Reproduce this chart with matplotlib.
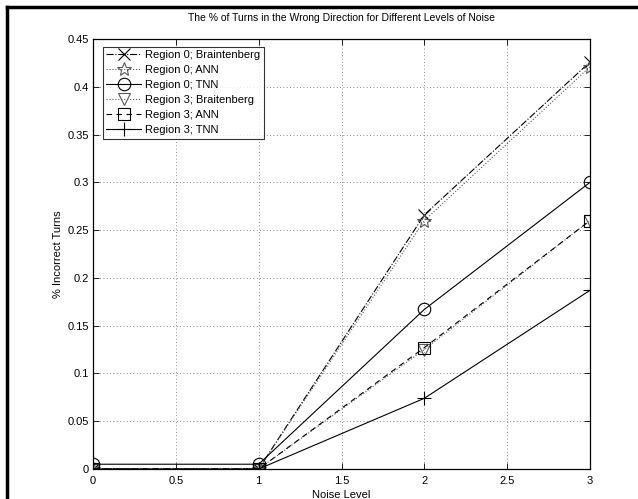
import matplotlib
matplotlib.use("Agg")
import matplotlib.pyplot as plt
from matplotlib.lines import Line2D

plt.rcParams['font.family'] = ['Liberation Sans', 'DejaVu Sans']

# --- data ---
noise = [0, 1, 2, 3]
r0_braitenberg = [0.0, 0.0, 0.266, 0.426]
r0_ann = [0.0, 0.0, 0.260, 0.421]
r0_tnn = [0.005, 0.005, 0.167, 0.300]
r3_braitenberg = [0.0, 0.0, 0.125, 0.260]
r3_ann = [0.0, 0.0, 0.127, 0.260]
r3_tnn = [0.0, 0.0, 0.074, 0.187]

labels = ['Region 0; Braintenberg', 'Region 0; ANN', 'Region 0; TNN',
          'Region 3; Braitenberg', 'Region 3; ANN', 'Region 3; TNN']
xticks = [0, 0.5, 1, 1.5, 2, 2.5, 3]
yticks = [0.05, 0.1, 0.15, 0.2, 0.25, 0.3, 0.35, 0.4, 0.45]

fig = plt.figure(figsize=(6.38, 4.99), dpi=100)
ax = fig.add_axes([93 / 638, 1 - 469 / 499, (590 - 93) / 638, (469 - 39) / 499])

ms = 9
ax.plot(noise, r0_braitenberg, color='k', linestyle='-.', lw=0.8, marker='x', ms=ms - 1, mew=0.8, label=labels[0])
ax.plot(noise, r0_ann, color='0.35', linestyle=':', lw=0.8, marker='*', ms=ms + 1, mfc='none', mew=0.8, label=labels[1])
ax.plot(noise, r0_tnn, color='k', linestyle='-', lw=0.8, marker='o', ms=ms, mfc='none', mew=0.8, label=labels[2])
ax.plot(noise, r3_braitenberg, color='0.35', linestyle=':', lw=0.8, marker='v', ms=ms, mfc='none', mew=0.8, label=labels[3])
ax.plot(noise, r3_ann, color='k', linestyle=(0, (5, 4)), lw=0.8, marker='s', ms=ms, mfc='none', mew=0.8, label=labels[4])
ax.plot(noise, r3_tnn, color='k', linestyle='-', lw=0.8, marker='+', ms=ms + 1, mew=0.8, label=labels[5])

ax.set_xlim(0, 3)
ax.set_ylim(0, 0.45)
ax.set_xticks(xticks)
ax.set_xticklabels(['0', '0.5', '1', '1.5', '2', '2.5', '3'])
ax.set_yticks([0] + yticks)
ax.set_yticklabels(['0'] + [f'{v:g}' for v in yticks])
ax.tick_params(direction='in', top=True, right=True, labelsize=8, length=4, width=0.6, pad=3)
ax.tick_params(axis='x', pad=5)
ax.grid(True, linestyle=(0, (1, 3)), color='0.4', lw=0.6)
for s in ax.spines.values():
    s.set_linewidth(0.9)

ax.set_title('The % of Turns in the Wrong Direction for Different Levels of Noise', fontsize=7.5, pad=13)
ax.set_xlabel('Noise Level', fontsize=8, labelpad=3)
ax.set_ylabel('% Incorrect Turns', fontsize=8, labelpad=3)

leg = ax.legend(loc='upper left', fontsize=8, frameon=True, fancybox=False, edgecolor='k',
                handlelength=3.1, bbox_to_anchor=(10 / 497, 1 - 8 / 430), borderaxespad=0,
                labelspacing=0.45, borderpad=0.3, handletextpad=0.4)
leg.get_frame().set_linewidth(0.8)

# outer frame (top and left only, the rest is cut off in the reference)
fig.add_artist(Line2D([7 / 638, 1.0], [1 - 7 / 499, 1 - 7 / 499], color='k', lw=2.5, transform=fig.transFigure))
fig.add_artist(Line2D([7 / 638, 7 / 638], [0.0, 1 - 7 / 499], color='k', lw=2.5, transform=fig.transFigure))

fig.savefig('out.png', dpi=100)
